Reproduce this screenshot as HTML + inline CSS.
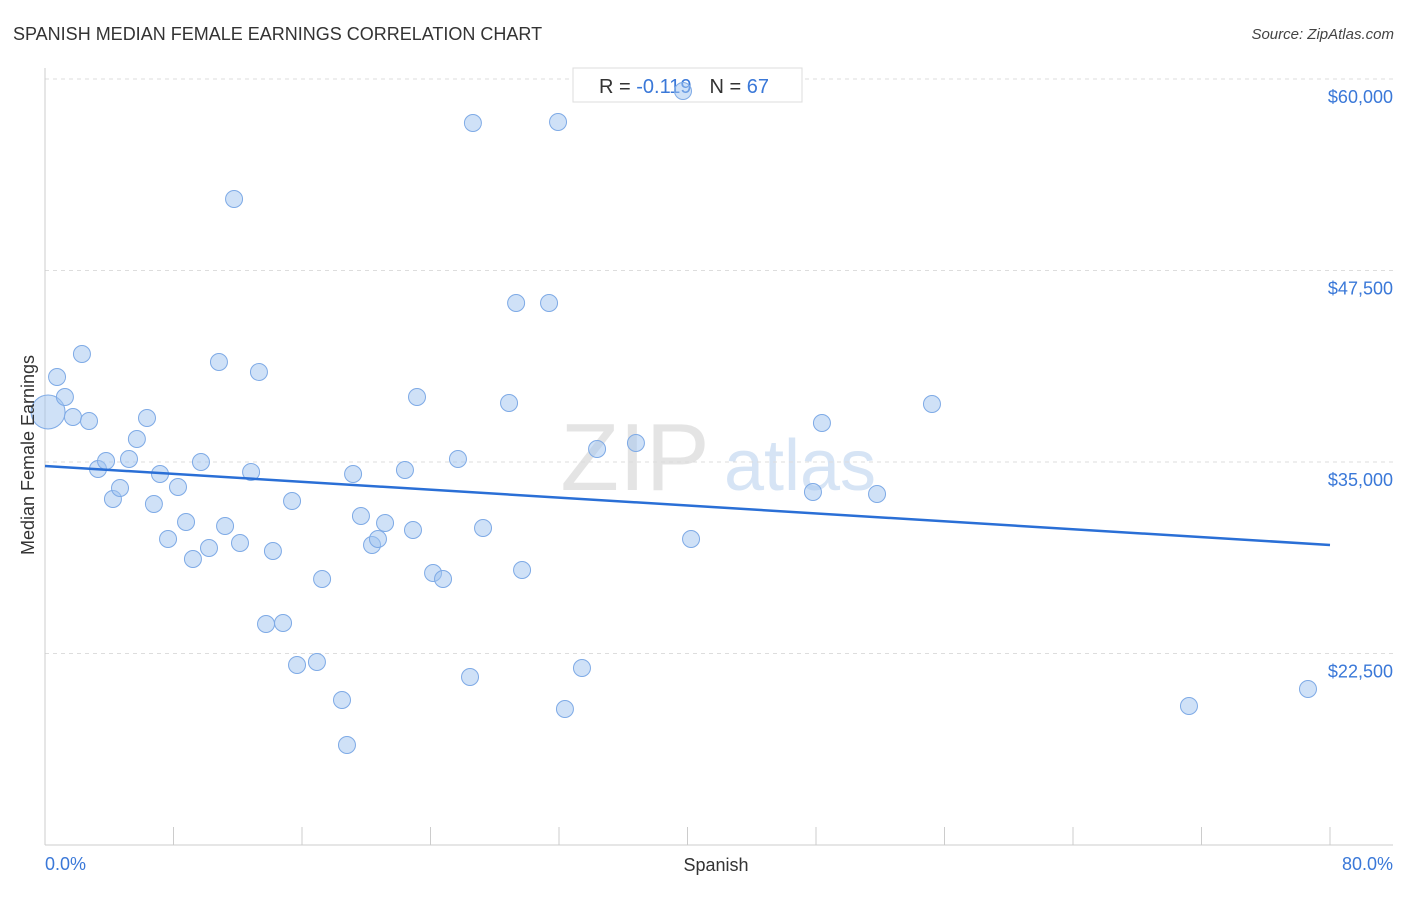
<!DOCTYPE html>
<html><head><meta charset="utf-8"><style>
body{margin:0;background:#fff;font-family:"Liberation Sans",sans-serif;}
svg text{font-family:"Liberation Sans",sans-serif;}
</style></head><body>
<svg id="chart" width="1406" height="892" xmlns="http://www.w3.org/2000/svg">
<text x="13" y="40" font-size="18" fill="#333">SPANISH MEDIAN FEMALE EARNINGS CORRELATION CHART</text>
<text x="1394" y="39" font-size="15" fill="#444" text-anchor="end" font-style="italic">Source: ZipAtlas.com</text>
<g>
<text x="635" y="490" font-size="96" fill="#e4e4e4" font-family="Liberation Serif" text-anchor="middle">ZIP</text>
<text x="800" y="490" font-size="72" fill="#d6e4f5" text-anchor="middle">atlas</text>
</g>
<g id="grid"></g>
<g id="axes"></g>
<g>
<rect x="573" y="68" width="229" height="34" fill="#fff" stroke="#ddd"/>
<text x="599" y="93" font-size="20" fill="#333">R = <tspan fill="#3a78d8">-0.119</tspan><tspan dx="18" fill="#333">N = </tspan><tspan fill="#3a78d8">67</tspan></text>
</g>
<g id="points"></g>
<g id="trend"></g>
<text transform="translate(34,455) rotate(-90)" font-size="18" fill="#333" text-anchor="middle">Median Female Earnings</text>
<text x="716" y="871" font-size="18" fill="#333" text-anchor="middle">Spanish</text>
<text x="45" y="870" font-size="18" fill="#3a78d8">0.0%</text>
<text x="1393" y="870" font-size="18" fill="#3a78d8" text-anchor="end">80.0%</text>
</svg>
<script>
const xValues=[0.19,0.75,1.24,1.74,2.30,2.74,3.30,3.80,4.23,4.67,5.23,5.72,6.35,6.78,7.16,7.66,8.28,8.78,9.21,9.71,10.21,10.83,11.21,11.77,12.14,12.83,13.32,13.76,14.19,14.82,15.38,15.69,16.93,17.25,18.49,18.80,19.18,19.67,20.36,20.73,21.17,22.41,22.91,23.16,24.16,24.78,25.71,26.46,26.64,27.27,28.89,29.33,29.70,31.38,31.94,32.37,33.43,34.37,36.79,39.72,40.22,47.81,48.37,51.80,55.22,71.22,78.63];
const yValues=[38264,40548,39243,37937,42050,37676,34543,35065,32585,33303,35196,36501,37872,32259,34217,29974,33368,31084,28668,35000,29386,41527,30822,52167,29713,34347,40875,24426,29190,24491,32454,21749,21945,27363,19465,16527,34217,31475,29582,29974,31018,34478,30561,39243,27755,27363,35196,20966,57128,30692,38851,45379,27950,45379,57193,18877,21554,35849,36240,59217,29974,33042,37546,32911,38786,19073,20183];
const yTicks=[60000,47500,35000,22500];
const yTickLabels=["$60,000","$47,500","$35,000","$22,500"];
const xTicks=[0,8,16,24,32,40,48,56,64,72,80];
const trendStart=[0,34739];
const trendEnd=[80,29582];
const NS="http://www.w3.org/2000/svg";
const X=v=>45+v/80*1285;
const Y=v=>79+(60000-v)/12500*191.5;
function mk(t,a,p){const e=document.createElementNS(NS,t);for(const k in a)e.setAttribute(k,a[k]);p.appendChild(e);return e;}
const grid=document.getElementById('grid'),axes=document.getElementById('axes'),pts=document.getElementById('points'),tr=document.getElementById('trend');
yTicks.forEach((t,i)=>{
 const l=mk('line',{x1:45,x2:1393,y1:Y(t),y2:Y(t),stroke:'#ddd','stroke-dasharray':'4,4'},grid);
 
 
 const tx=mk('text',{x:1393,y:Y(t)+24,'font-size':18,fill:'#3a78d8','text-anchor':'end'},axes);
 tx.textContent=yTickLabels[i];
 
 
});
const ya=mk('line',{x1:45,x2:45,y1:68,y2:845,stroke:'#ccc'},axes);


const xa=mk('line',{x1:45,x2:1393,y1:845,y2:845,stroke:'#ccc'},axes);


xTicks.forEach(t=>{
 const l=mk('line',{x1:X(t),x2:X(t),y1:827,y2:845,stroke:'#ccc'},axes);
 
 
});
xValues.forEach((v,i)=>{
 const c=mk('circle',{cx:X(v),cy:Y(yValues[i]),r:i===0?17:8.5,fill:'rgba(160,196,240,0.5)',stroke:'#7eaae6','stroke-width':1},pts);
 
 
});
const tl=mk('line',{x1:X(trendStart[0]),y1:Y(trendStart[1]),x2:X(trendEnd[0]),y2:Y(trendEnd[1]),stroke:'#2a6fd6','stroke-width':2.5},tr);


</script>
</body></html>
